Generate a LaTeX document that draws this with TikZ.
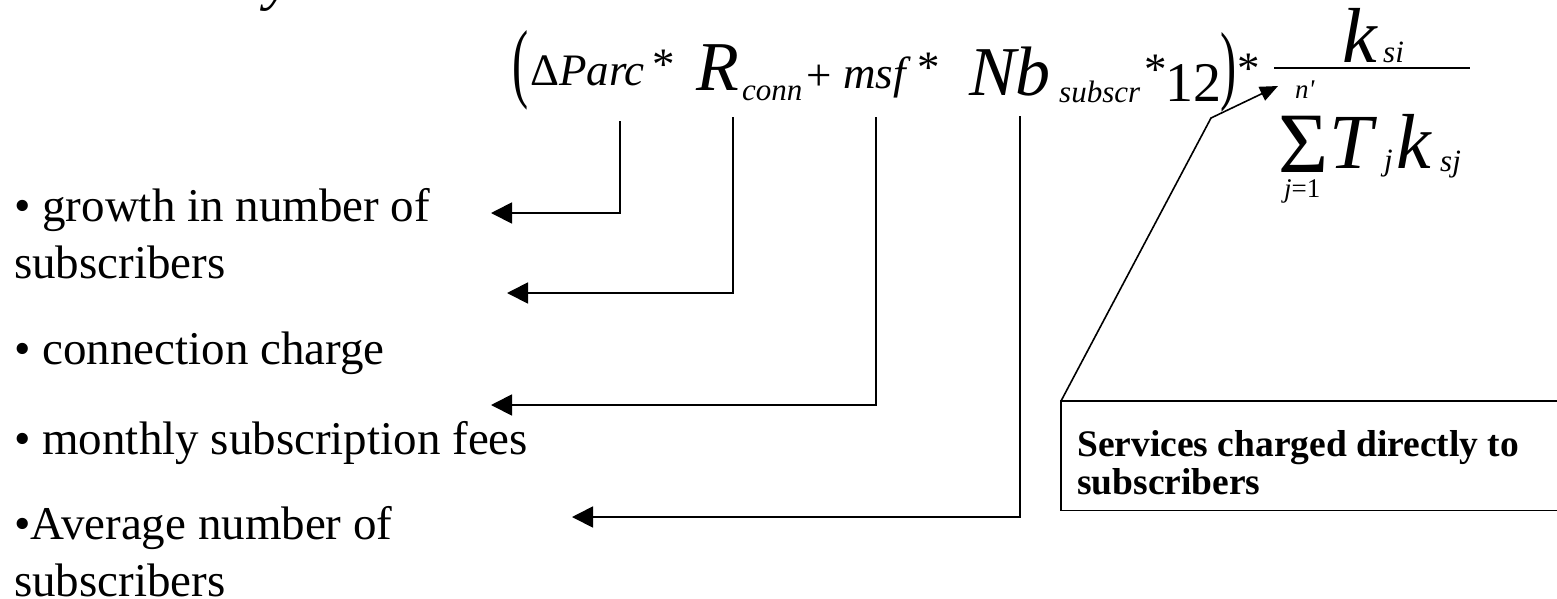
\documentclass[tikz,border=0pt]{standalone}
\usepackage{fontspec}
\setmainfont{Liberation Serif}[ItalicFont={Liberation Serif Italic}, BoldFont={Liberation Serif Bold}]
\usepackage{graphicx}
\usetikzlibrary{arrows.meta}
\newcommand{\fsmall}{\fontsize{45}{45}\selectfont}
\newcommand{\fdigit}{\fontsize{56}{56}\selectfont}
\newcommand{\fbig}{\fontsize{70}{70}\selectfont}
\newcommand{\ffrac}{\fontsize{78}{78}\selectfont}
\newcommand{\fsub}{\fontsize{31}{31}\selectfont}
\newcommand{\ftiny}{\fontsize{27}{27}\selectfont}
\newcommand{\fsum}{\fontsize{86}{86}\selectfont}
\newcommand{\fparen}{\fontsize{88}{88}\selectfont}
\newcommand{\ftitle}{\fontsize{60}{60}\selectfont}
\tikzset{
	>={Triangle[length=21pt,width=21pt]},
	pointer/.style={->, line width=1.8pt},
	leader/.style={-{Triangle[length=18pt,width=15pt]}, line width=1.6pt},
	boxline/.style={line width=1.6pt},
	item/.style={anchor=north west, inner sep=0pt, align=left, font={\fontsize{47}{57}\selectfont}},
	svctext/.style={anchor=north west, inner sep=0pt, align=left, font={\fontsize{37.5}{38}\selectfont\bfseries}},
	term/.style={anchor=base west, inner sep=0pt}
}

\begin{document}
\begin{tikzpicture}[x=1pt, y=-1pt]
	\useasboundingbox (0,0) rectangle (1557,598);
	\node[term, font=\ftitle\itshape] (title) at (265,-2) {y};
	\begin{scope}
		\node[term, font=\fparen] (lpar) at (512,91) {\scalebox{0.55}[1]{(}};
		\node[term, font=\fsmall] (parc) at (530,85) {Δ\textit{Parc}};
		\node[term, font=\fsmall] (star1) at (652,79) {*};
		\node[term, font=\fbig\itshape] (rconn) at (696,90) {R};
		\node[term, font=\fsub\itshape] (conn) at (742,100) {conn};
		\node[term, font=\fsmall] (plus) at (806,90) {+};
		\node[term, font=\fsmall\itshape] (msf) at (843,88) {msf};
		\node[term, font=\fsmall] (star2) at (917,82) {*};
		\node[term, font=\fbig\itshape] (nb) at (969,95) {Nb};
		\node[term, font=\fsub\itshape] (subscr) at (1059,102) {subscr};
		\node[term, font=\fsmall] (star4) at (1144,84) {*};
		\node[term, font=\fdigit] (twelve) at (1165,101) {12};
		\node[term, font=\fparen] (rpar) at (1220,93) {\scalebox{0.55}[1]{)}};
		\node[term, font=\fsmall] (star3) at (1237,83) {*};
	\end{scope}
	\begin{scope}
		\coordinate (barleft) at (1274,68);
		\coordinate (barright) at (1470,68);
		\draw[line width=1.5pt] (barleft) -- (barright);
		\node[term, font=\ffrac\itshape] (ksi) at (1342,62) {k};
		\node[term, font=\fsub\itshape] (si) at (1383,62) {si};
		\node[term, font=\ftiny\itshape] (nprime) at (1295,98) {n\textquotesingle};
		\node[term, font=\fsum] (sigma) at (1278,172) {Σ};
		\node[term, font=\ffrac\itshape] (tj) at (1329,168) {T};
		\node[term, font=\fsub\itshape] (jsub) at (1384,170) {j};
		\node[term, font=\ffrac\itshape] (ksj) at (1396,168) {k};
		\node[term, font=\fsub\itshape] (sj) at (1440,171) {sj};
		\node[term, font=\ftiny] (jlow) at (1284,197) {\textit{j}=1};
	\end{scope}
	\node[item] (growth) at (14,188) {• growth in number of\\subscribers};
	\node[item] (charge) at (14,332) {• connection charge};
	\node[item] (fees) at (14,421) {• monthly subscription fees};
	\node[item] (average) at (14,506) {•Average number of\\subscribers};
	\coordinate (parcfoot) at (620,121);
	\coordinate (rfoot) at (733,117);
	\coordinate (msffoot) at (876,117);
	\coordinate (nbfoot) at (1020,116);
	\coordinate (growthtip) at (491,213);
	\coordinate (chargetip) at (507,293);
	\coordinate (feestip) at (491,405);
	\coordinate (averagetip) at (572,517);
	\foreach \foot/\tip in {parcfoot/growthtip, rfoot/chargetip, msffoot/feestip, nbfoot/averagetip} {
		\draw[pointer] (\foot) |- (\tip);
	}
	\node[anchor=north west, inner sep=0pt, minimum width=496pt, minimum height=109pt] (svcbox) at (1061,401) {};
	\draw[boxline] (svcbox.north east) -| (svcbox.south west) -- (svcbox.south east);
	\node[svctext] (svclabel) at (1077,430) {Services charged directly to\\subscribers};
	\coordinate (kink) at (1211,118);
	\coordinate (sumtip) at (1278,86);
	\draw[leader] (svcbox.north west) -- (kink) -- (sumtip);
\end{tikzpicture}
\end{document}
